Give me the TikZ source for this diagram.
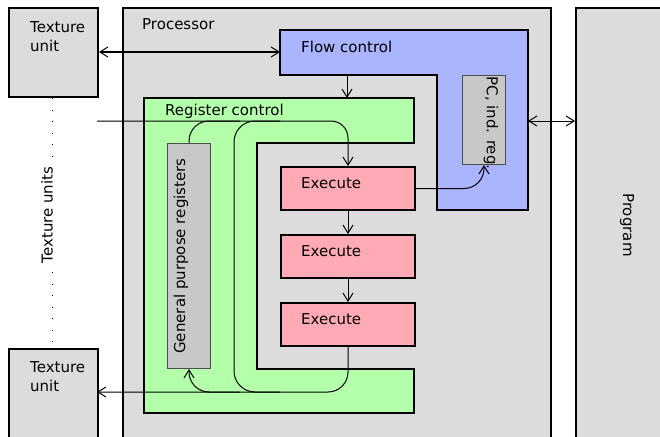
\documentclass[tikz,border=0pt]{standalone}
\usepackage{fontspec}
\setmainfont{DejaVu Sans}
\usetikzlibrary{arrows.meta}
\definecolor{bggray}{RGB}{220,220,220}
\definecolor{reggray}{RGB}{200,200,200}
\definecolor{flowblue}{RGB}{170,180,255}
\definecolor{rcgreen}{RGB}{179,255,170}
\definecolor{expink}{RGB}{255,170,180}
\begin{document}
\begin{tikzpicture}[x=1pt,y=-1pt,
  font=\fontsize{15}{19}\selectfont,
  box/.style={draw, line width=2pt, anchor=north west, inner sep=0pt},
  regbox/.style={draw=black!70, line width=1pt, fill=reggray, anchor=north west, inner sep=0pt},
  txt/.style={inner sep=0pt},
  wire/.style={line width=1pt},
  conn/.style={line width=1pt, -{Straight Barb[length=8pt,width=10pt]}},
  bidir/.style={line width=1pt, {Straight Barb[length=8pt,width=10pt]}-{Straight Barb[length=8pt,width=10pt]}},
  dotline/.style={line width=1pt, dash pattern=on 1pt off 10.5pt}]
\useasboundingbox (0,0) rectangle (660,436);
\clip (0,0) rectangle (660,436);
% outer boxes
\node[box, fill=bggray, minimum width=89pt, minimum height=89pt] (tu1) at (8,7) {};
\node[box, fill=bggray, minimum width=89pt, minimum height=100pt] (tu2) at (8,348) {};
\node[box, fill=bggray, minimum width=428pt, minimum height=450pt] (proc) at (122,7) {};
\node[box, fill=bggray, minimum width=100pt, minimum height=450pt] (prog) at (575,7) {};
% flow control (L shape)
\draw[line width=2pt, fill=flowblue] (280,30) -- (528,30) -- (528,210) -- (437,210) -- (437,75) -- (280,75) -- cycle;
% register control
\draw[line width=2pt, fill=rcgreen] (144,98) -- (414,98) -- (414,143) -- (257,143) -- (257,369) -- (414,369) -- (414,413) -- (144,413) -- cycle;
% inner boxes
\node[regbox, minimum width=43pt, minimum height=89pt] (pc) at (462,75) {};
\node[regbox, minimum width=43pt, minimum height=225pt] (gpr) at (167,143) {};
\node[box, fill=expink, minimum width=134pt, minimum height=43pt] (ex1) at (280,166) {};
\node[box, fill=expink, minimum width=134pt, minimum height=43pt] (ex2) at (280,234) {};
\node[box, fill=expink, minimum width=134pt, minimum height=43pt] (ex3) at (280,302) {};
% labels
\node[txt, anchor=north west, align=left] (tu1t) at (30,21) {Texture\\unit};
\node[txt, anchor=north west, align=left] (tu2t) at (30,361) {Texture\\unit};
\node[txt, anchor=west] (proct) at (142,24) {Processor};
\node[txt, anchor=west] (fct) at (301,47) {Flow control};
\node[txt, anchor=west] (rct) at (165,111) {Register control};
\node[txt, anchor=west] (ex1t) at (301,183) {Execute};
\node[txt, anchor=west] (ex2t) at (301,251) {Execute};
\node[txt, anchor=west] (ex3t) at (301,319) {Execute};
\node[txt, rotate=-90] (pct) at (491,123) {PC, ind. reg.};
\node[txt, rotate=90] (gprt) at (181,256) {General purpose registers};
\node[txt, rotate=90] (tut) at (47,215) {Texture units};
\node[txt, rotate=-90] (progt) at (627,225) {Program};
% dotted
\coordinate (d1a) at (52,98);
\coordinate (d1b) at (52,162);
\coordinate (d2a) at (52,272);
\coordinate (d2b) at (52,342);
\draw[dotline] (d1a) -- (d1b);
\draw[dotline] (d2a) -- (d2b);
% coordinates
\coordinate (fcL) at (280,52);
\coordinate (fcR) at (528,121);
\coordinate (fcB) at (347,75);
\coordinate (rcT) at (347,98);
\coordinate (inL) at (97,121);
\coordinate (outL) at (97,392);
\coordinate (busT) at (280,121);
\coordinate (busB) at (280,392);
\coordinate (gT) at (240,121);
\coordinate (gB) at (240,392);
% connectors
\draw[bidir] (tu1.east |- fcL) -- (fcL);
\draw[bidir] (fcR) -- (prog.west |- fcR);
\draw[conn] (fcB) -- (rcT);
\draw[conn, rounded corners=17pt] (inL) -| (ex1.north);
\draw[wire, rounded corners=20pt] (gpr.north) |- (gT);
\draw[wire, rounded corners=21pt] (busT) -| (234,250) |- (busB);
\draw[conn, rounded corners=20pt] (gB) -| (gpr.south);
\draw[conn, rounded corners=20pt] (ex3.south) |- (outL);
\draw[conn] (ex1.south) -- (ex2.north);
\draw[conn] (ex2.south) -- (ex3.north);
\draw[conn, rounded corners=20pt] (ex1.east) -| (pc.south);
\end{tikzpicture}
\end{document}
